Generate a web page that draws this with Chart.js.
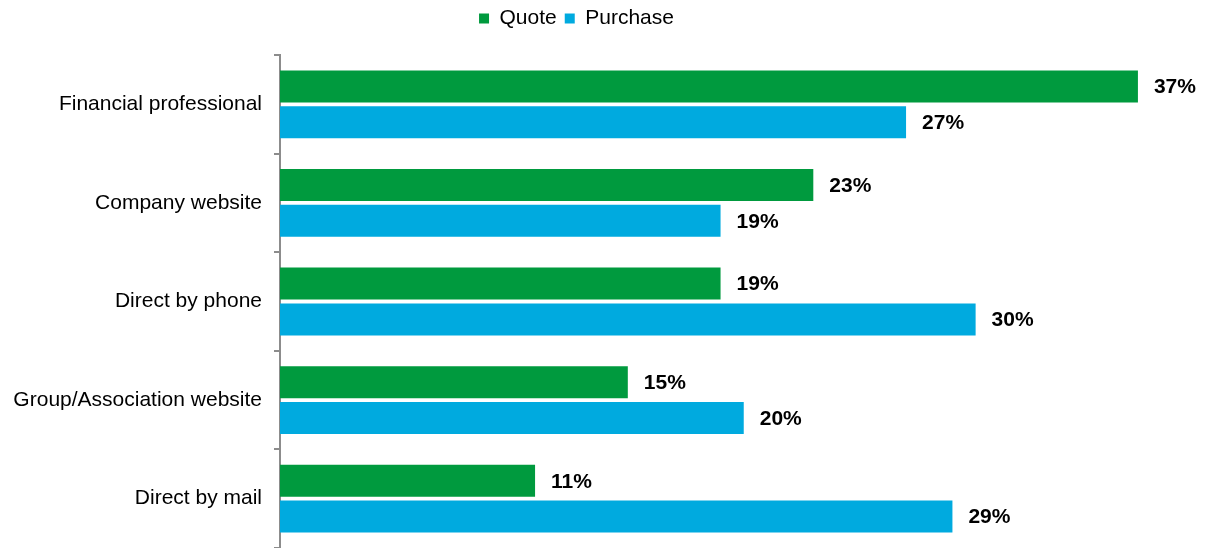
<!DOCTYPE html>
<html>
<head>
<meta charset="utf-8">
<script src="https://cdn.jsdelivr.net/npm/chart.js@4/dist/chart.umd.min.js"></script>
<style>
  html, body { margin: 0; padding: 0; background: #fff; }
  canvas { display: block; }
</style>
</head>
<body>
<canvas id="chart" width="1207" height="548"></canvas>
<script>
"use strict";

const categories = ["Financial professional", "Company website", "Direct by phone", "Group/Association website", "Direct by mail"];
const quote = [37, 23, 19, 15, 11];
const purchase = [27, 19, 30, 20, 29];

const GREEN = "#009a3e";
const BLUE = "#00aadf";
const FONT = "'Liberation Sans', Arial, sans-serif";

// value labels to the right of each bar
const barLabels = {
  id: "barLabels",
  afterDatasetsDraw(chart) {
    const ctx = chart.ctx;
    ctx.save();
    ctx.font = "bold 21px " + FONT;
    ctx.fillStyle = "#000";
    ctx.textBaseline = "middle";
    ctx.textAlign = "left";
    chart.data.datasets.forEach((ds, i) => {
      chart.getDatasetMeta(i).data.forEach((bar, j) => {
        ctx.fillText(ds.data[j] + "%", bar.x + 16, bar.y + 1);
      });
    });
    ctx.restore();
  }
};

// extra space under the legend
const legendGap = {
  id: "legendGap",
  beforeInit(chart) {
    const fit = chart.legend.fit;
    chart.legend.fit = function () {
      fit.bind(chart.legend)();
      this.height += 16;
    };
  }
};

new Chart("chart", {
  type: "bar",
  data: {
    labels: categories,
    datasets: [{
      label: "Quote",
      data: quote,
      backgroundColor: GREEN,
      categoryPercentage: 0.726,
      barPercentage: 0.894
    }, {
      label: "Purchase",
      data: purchase,
      backgroundColor: BLUE,
      categoryPercentage: 0.726,
      barPercentage: 0.894
    }]
  },
  plugins: [barLabels, legendGap],
  options: {
    indexAxis: "y",
    responsive: false,
    animation: false,
    layout: { padding: { left: 0, right: 54, top: 0, bottom: 0 } },
    plugins: {
      tooltip: { enabled: false },
      legend: {
        position: "top",
        labels: {
          boxWidth: 10,
          boxHeight: 10,
          padding: 8,
          color: "#000",
          font: { family: FONT, size: 21 }
        }
      }
    },
    scales: {
      x: {
        display: false,
        min: 0,
        max: 37.65
      },
      y: {
        afterFit(scale) {
          scale.width = 280;
          scale.paddingTop = 0;
          scale.paddingBottom = 0;
        },
        border: { display: true, color: "#8c8c8c", width: 2 },
        grid: {
          display: true,
          drawOnChartArea: false,
          drawTicks: true,
          tickLength: 6,
          color: "#8c8c8c",
          lineWidth: 2,
          offset: true
        },
        ticks: {
          color: "#000",
          padding: 12,
          font: { family: FONT, size: 21 }
        }
      }
    }
  }
});
</script>
</body>
</html>
